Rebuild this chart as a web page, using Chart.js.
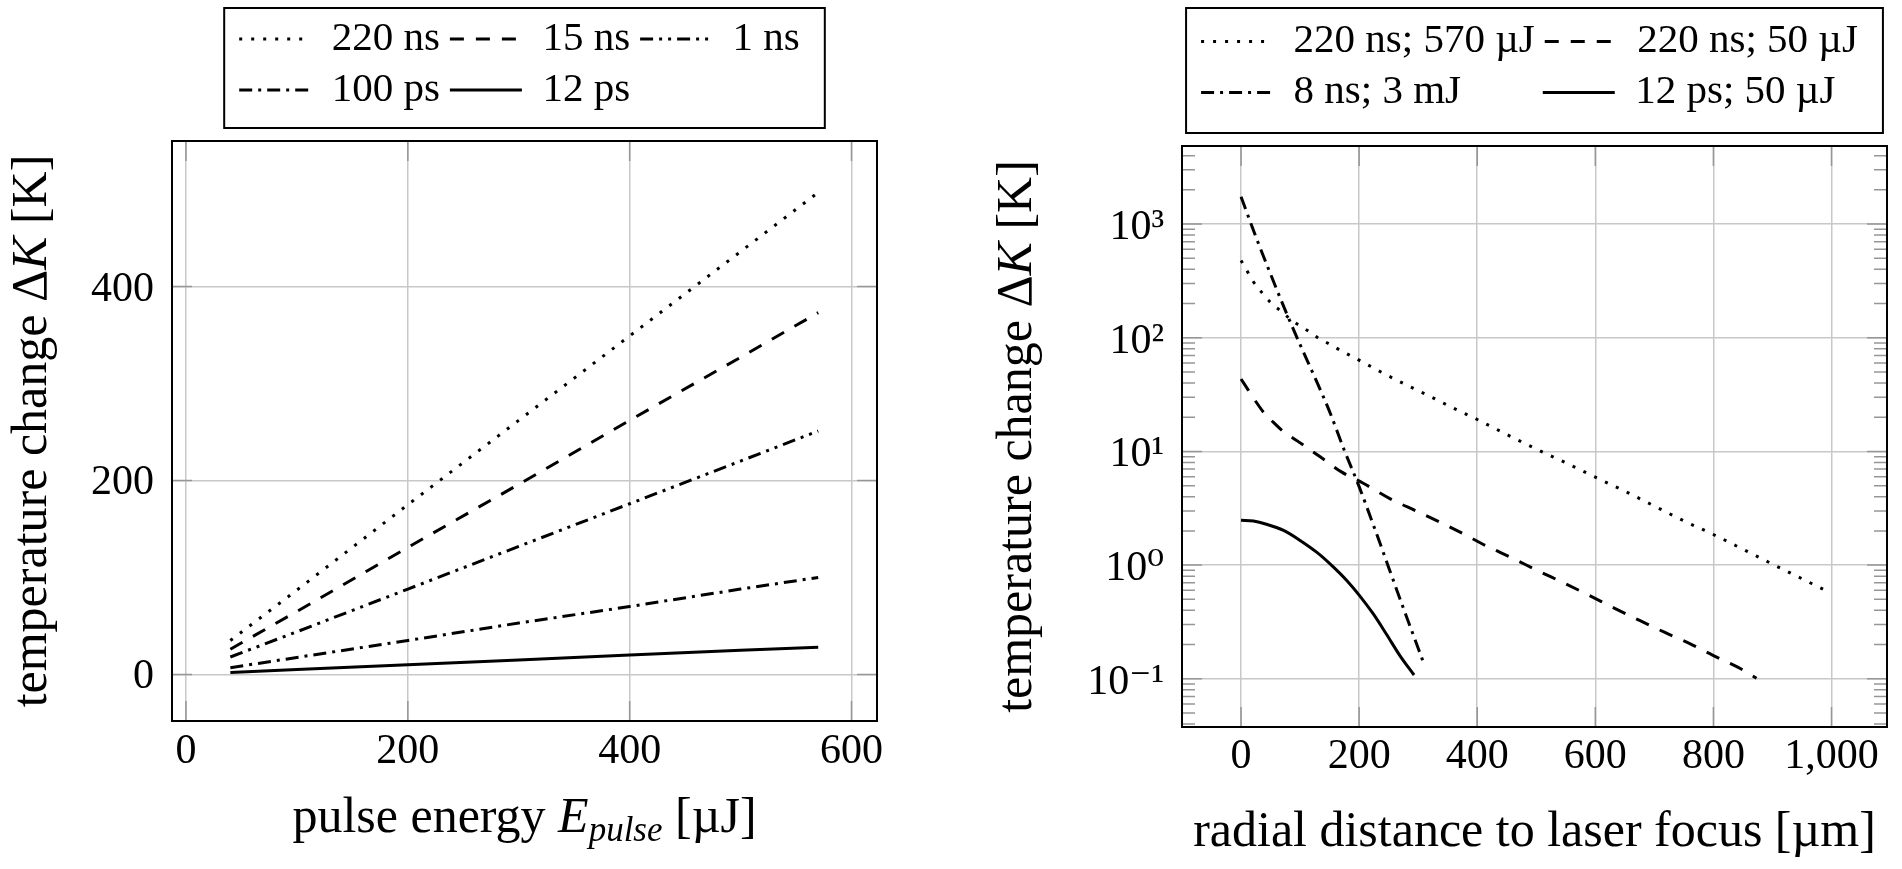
<!DOCTYPE html>
<html>
<head>
<meta charset="utf-8">
<script src="https://cdn.jsdelivr.net/npm/chart.js@4.4.1/dist/chart.umd.min.js"></script>
<style>
  html, body { margin: 0; padding: 0; background: #fff; }
  body { width: 1902px; height: 869px; position: relative; overflow: hidden; }
  canvas { position: absolute; top: 0; }
  #left  { left: 0; }
  #right { left: 950px; }
</style>
</head>
<body>
<canvas id="left" width="930" height="869"></canvas>
<canvas id="right" width="952" height="869"></canvas>
<script>
/* ---------- 1.  Left panel: ΔK vs pulse energy ----------- */
const energy   = [40, 100, 200, 300, 400, 500, 570];
const k220ns   = [35, 87, 175, 262, 349, 436, 497];
const k15ns    = [26, 65, 131, 196, 262, 327, 373];
const k1ns     = [18, 44, 88, 132, 176, 220, 251];
const k100ps   = [7, 17.5, 35, 53, 70, 88, 100];
const k12ps    = [2, 5, 10, 15, 20, 25, 28];
const leftLabels = ["220 ns", "15 ns", "1 ns", "100 ps", "12 ps"];
const leftXTicks = [0, 200, 400, 600];
const leftYTicks = [0, 200, 400];

/* ---------- 2.  Right panel: ΔK vs radial distance -------- */
const dotX  = [0, 10, 20, 35, 50, 65, 80, 95, 115, 130, 150, 170, 190, 210, 240, 280, 320, 360, 400, 450, 500, 550, 600, 650, 700, 750, 800, 850, 900, 950, 997];
const dotY  = [479, 389, 316, 251, 204, 176, 151, 132, 113.5, 100, 87.9, 76.7, 67.6, 59.6, 49.0, 38.5, 30.5, 24.0, 19.1, 14.1, 10.5, 7.94, 5.94, 4.47, 3.31, 2.45, 1.86, 1.38, 1.02, 0.759, 0.575];
const dashX = [0, 12, 25, 40, 55, 70, 97, 134, 170, 207, 252, 297, 336, 376, 415, 457, 502, 547, 590, 632, 675, 717, 760, 800, 842, 873];
const dashY = [43.4, 34.8, 27.5, 21.5, 18.0, 15.2, 12.2, 8.97, 6.61, 5.25, 3.85, 2.99, 2.40, 1.89, 1.48, 1.17, 0.897, 0.695, 0.541, 0.419, 0.326, 0.257, 0.204, 0.160, 0.126, 0.101];
const ddX   = [0, 25, 50, 75, 100, 125, 150, 175, 200, 225, 250, 275, 300, 311];
const ddY   = [1738, 776, 363, 174, 87, 44.7, 22.4, 10.2, 4.9, 2.19, 0.955, 0.417, 0.186, 0.130];
const solX  = [0, 21, 43, 72, 100, 128, 153, 179, 201, 224, 246, 269, 293];
const solY  = [2.48, 2.44, 2.29, 2.02, 1.65, 1.30, 1.0, 0.733, 0.537, 0.372, 0.248, 0.160, 0.108];
const rightLabels = ["220 ns; 570 µJ", "220 ns; 50 µJ", "8 ns; 3 mJ", "12 ps; 50 µJ"];
const rightXTicks = [0, 200, 400, 600, 800, 1000];
const rightYTicks = [0.1, 1, 10, 100, 1000];
const rightYTickLabels = ["10⁻¹", "10⁰", "10¹", "10²", "10³"];

/* ---------- 3.  Styling ---------------------------------- */
const FAMILY = "'Liberation Serif', 'DejaVu Serif', serif";
Chart.defaults.font.family = FAMILY;
Chart.defaults.color = "#000";

const TICK_PX = 42, LEGEND_PX = 41, TITLE_PX = 50;
const GRID = "rgb(200,200,200)", MARK = "rgb(150,150,150)";
const DOTTED = [3, 9], DASHED = [14, 12], DASHDOT = [13, 6, 3, 6], DASHDOTDOT = [13, 6, 3, 6, 3, 6];

const yTitleParts = [
  {text: "temperature change Δ", font: `${TITLE_PX}px ${FAMILY}`},
  {text: "K", font: `italic ${TITLE_PX}px ${FAMILY}`},
  {text: " [K]", font: `${TITLE_PX}px ${FAMILY}`}
];
const leftXTitleParts = [
  {text: "pulse energy ", font: `50px ${FAMILY}`},
  {text: "E", font: `italic 50px ${FAMILY}`},
  {text: "pulse", font: `italic 35px ${FAMILY}`, dy: 9},
  {text: " [µJ]", font: `50px ${FAMILY}`}
];
const rightXTitleParts = [
  {text: "radial distance to laser focus [µm]", font: `50px ${FAMILY}`}
];

/* ---------- 4.  Helpers ---------------------------------- */
function series(label, xs, ys, dash, smooth) {
  return {
    label,
    data: xs.map((x, i) => ({x, y: ys[i]})),
    borderColor: "#000", borderWidth: 3, borderDash: dash, borderCapStyle: "butt",
    pointRadius: 0, fill: false, tension: 0,
    cubicInterpolationMode: smooth ? "monotone" : "default"
  };
}

// legend items with the line dash of each dataset; texts padded so columns line up
function columnLabels(cols) {
  return chart => {
    const ctx = chart.ctx;
    ctx.save();
    ctx.font = `${LEGEND_PX}px ${FAMILY}`;
    const w = t => ctx.measureText(t).width;
    const ds = chart.data.datasets, colMax = [];
    ds.forEach((d, i) => { const c = i % cols; colMax[c] = Math.max(colMax[c] || 0, w(d.label)); });
    const items = ds.map((d, i) => {
      let text = d.label;
      while (w(text + " ") <= colMax[i % cols] + 3) text += " ";
      return {
        text, fillStyle: "#000", strokeStyle: "#000", fontColor: "#000",
        lineWidth: 3, lineDash: d.borderDash, lineCap: "butt",
        pointStyle: "line", rotation: 180, hidden: false, datasetIndex: i
      };
    });
    ctx.restore();
    return items;
  };
}

function richText(ctx, parts, x, y, vertical) {
  ctx.save();
  ctx.translate(x, y);
  if (vertical) ctx.rotate(-Math.PI / 2);
  ctx.fillStyle = "#000"; ctx.textBaseline = "alphabetic"; ctx.textAlign = "left";
  const widths = parts.map(p => { ctx.font = p.font; return ctx.measureText(p.text).width; });
  let cx = -widths.reduce((a, b) => a + b, 0) / 2;
  parts.forEach((p, i) => { ctx.font = p.font; ctx.fillText(p.text, cx, p.dy || 0); cx += widths[i]; });
  ctx.restore();
}

/* legend placement + frame, inward tick marks, rich axis titles */
const panelDecor = {
  id: "panelDecor",
  beforeDraw(chart, args, o) {
    const lg = chart.legend, a = chart.chartArea, pad = lg.options.labels.padding;
    const rowW = Math.max(...lg.lineWidths) - pad;
    const start = (a.left + a.right) / 2 - (rowW + 40) / 2 + 15;
    lg.left = start - pad; lg.right = start + rowW + pad + 1; lg.width = lg.right - lg.left;
    lg.top = o.legendTop; lg.bottom = o.legendTop + lg.height;
    chart.$legendBox = [start - 15, start + rowW + 25];
  },
  beforeDatasetsDraw(chart, args, o) {
    const {ctx, chartArea: a, scales: {x, y}} = chart;
    const MAJ = 20, MIN = 13;
    ctx.save();
    ctx.strokeStyle = MARK; ctx.lineWidth = 1.5;
    ctx.beginPath();
    x.ticks.forEach(t => {
      const px = x.getPixelForValue(t.value);
      ctx.moveTo(px, a.bottom); ctx.lineTo(px, a.bottom - MAJ);
      ctx.moveTo(px, a.top);    ctx.lineTo(px, a.top + MAJ);
    });
    y.ticks.forEach(t => {
      const py = y.getPixelForValue(t.value);
      ctx.moveTo(a.left, py);  ctx.lineTo(a.left + MAJ, py);
      ctx.moveTo(a.right, py); ctx.lineTo(a.right - MAJ, py);
    });
    if (o.minor) {
      for (let e = -2; e <= 3; e++) for (let m = 2; m <= 9; m++) {
        const v = m * Math.pow(10, e);
        if (v < y.min || v > y.max) continue;
        const py = y.getPixelForValue(v);
        ctx.moveTo(a.left, py);  ctx.lineTo(a.left + MIN, py);
        ctx.moveTo(a.right, py); ctx.lineTo(a.right - MIN, py);
      }
    }
    ctx.stroke();
    ctx.restore();
  },
  afterDraw(chart, args, o) {
    const {ctx, chartArea: a} = chart;
    ctx.save();
    ctx.strokeStyle = "#000"; ctx.lineWidth = 2;
    ctx.strokeRect(a.left, a.top, a.right - a.left, a.bottom - a.top);
    const [bl, br] = chart.$legendBox;
    ctx.strokeRect(bl, o.frameTop, br - bl, o.frameBottom - o.frameTop);
    ctx.restore();
    richText(ctx, o.yTitle, o.yTitleX, (a.top + a.bottom) / 2, true);
    richText(ctx, o.xTitle, (a.left + a.right) / 2, o.xTitleY, false);
  }
};

function axis(extra) {
  return Object.assign({
    type: "linear",
    grid: {color: GRID, lineWidth: 1.5, drawTicks: false},
    border: {display: false}
  }, extra);
}

function legendOpts(cols) {
  return {
    position: "top", align: "start", fullSize: false,
    labels: {
      usePointStyle: true, pointStyleWidth: 72, padding: 10,
      font: {size: LEGEND_PX}, color: "#000",
      generateLabels: columnLabels(cols)
    }
  };
}

/* ---------- 5.  Left chart ------------------------------- */
new Chart(document.getElementById("left"), {
  type: "line",
  data: {
    datasets: [
      series(leftLabels[0], energy, k220ns, DOTTED),
      series(leftLabels[1], energy, k15ns, DASHED),
      series(leftLabels[2], energy, k1ns, DASHDOTDOT),
      series(leftLabels[3], energy, k100ps, DASHDOT),
      series(leftLabels[4], energy, k12ps, [])
    ]
  },
  options: {
    responsive: false, animation: false, events: [],
    layout: {padding: {top: 29, right: 53, left: 0, bottom: 0}},
    scales: {
      x: axis({
        min: -12.6, max: 623,
        afterBuildTicks: s => { s.ticks = leftXTicks.map(v => ({value: v})); },
        afterFit: s => { s.height = 148; },
        ticks: {font: {size: TICK_PX}, padding: 6, maxRotation: 0, autoSkip: false,
                callback: v => v.toLocaleString("en-US")}
      }),
      y: axis({
        min: -48, max: 550,
        afterBuildTicks: s => { s.ticks = leftYTicks.map(v => ({value: v})); },
        afterFit: s => { s.width = 172; },
        ticks: {font: {size: TICK_PX}, padding: 18, labelOffset: 3, autoSkip: false}
      })
    },
    plugins: {
      legend: legendOpts(3),
      tooltip: {enabled: false},
      panelDecor: {legendTop: 8.5, frameTop: 8, frameBottom: 128,
                   yTitleX: 46, xTitleY: 832, yTitle: yTitleParts, xTitle: leftXTitleParts, minor: false}
    }
  },
  plugins: [panelDecor]
});

/* ---------- 6.  Right chart ------------------------------ */
new Chart(document.getElementById("right"), {
  type: "line",
  data: {
    datasets: [
      series(rightLabels[0], dotX, dotY, DOTTED, true),
      series(rightLabels[1], dashX, dashY, DASHED, true),
      series(rightLabels[2], ddX, ddY, DASHDOT, true),
      series(rightLabels[3], solX, solY, [], true)
    ]
  },
  options: {
    responsive: false, animation: false, events: [],
    layout: {padding: {top: 34, right: 15, left: 0, bottom: 0}},
    scales: {
      x: axis({
        min: -100, max: 1094,
        afterBuildTicks: s => { s.ticks = rightXTicks.map(v => ({value: v})); },
        afterFit: s => { s.height = 142; },
        ticks: {font: {size: TICK_PX}, padding: 5, maxRotation: 0, autoSkip: false,
                callback: v => v.toLocaleString("en-US")}
      }),
      y: axis({
        type: "logarithmic",
        min: 0.03767, max: 4864,
        afterBuildTicks: s => { s.ticks = rightYTicks.map(v => ({value: v})); },
        afterFit: s => { s.width = 232; },
        ticks: {font: {size: TICK_PX}, padding: 18, labelOffset: 4, autoSkip: false,
                callback: (v, i) => rightYTickLabels[i]}
      })
    },
    plugins: {
      legend: legendOpts(2),
      tooltip: {enabled: false},
      panelDecor: {legendTop: 11, frameTop: 8, frameBottom: 133,
                   yTitleX: 81, xTitleY: 846, yTitle: yTitleParts, xTitle: rightXTitleParts, minor: true}
    }
  },
  plugins: [panelDecor]
});
</script>
</body>
</html>
